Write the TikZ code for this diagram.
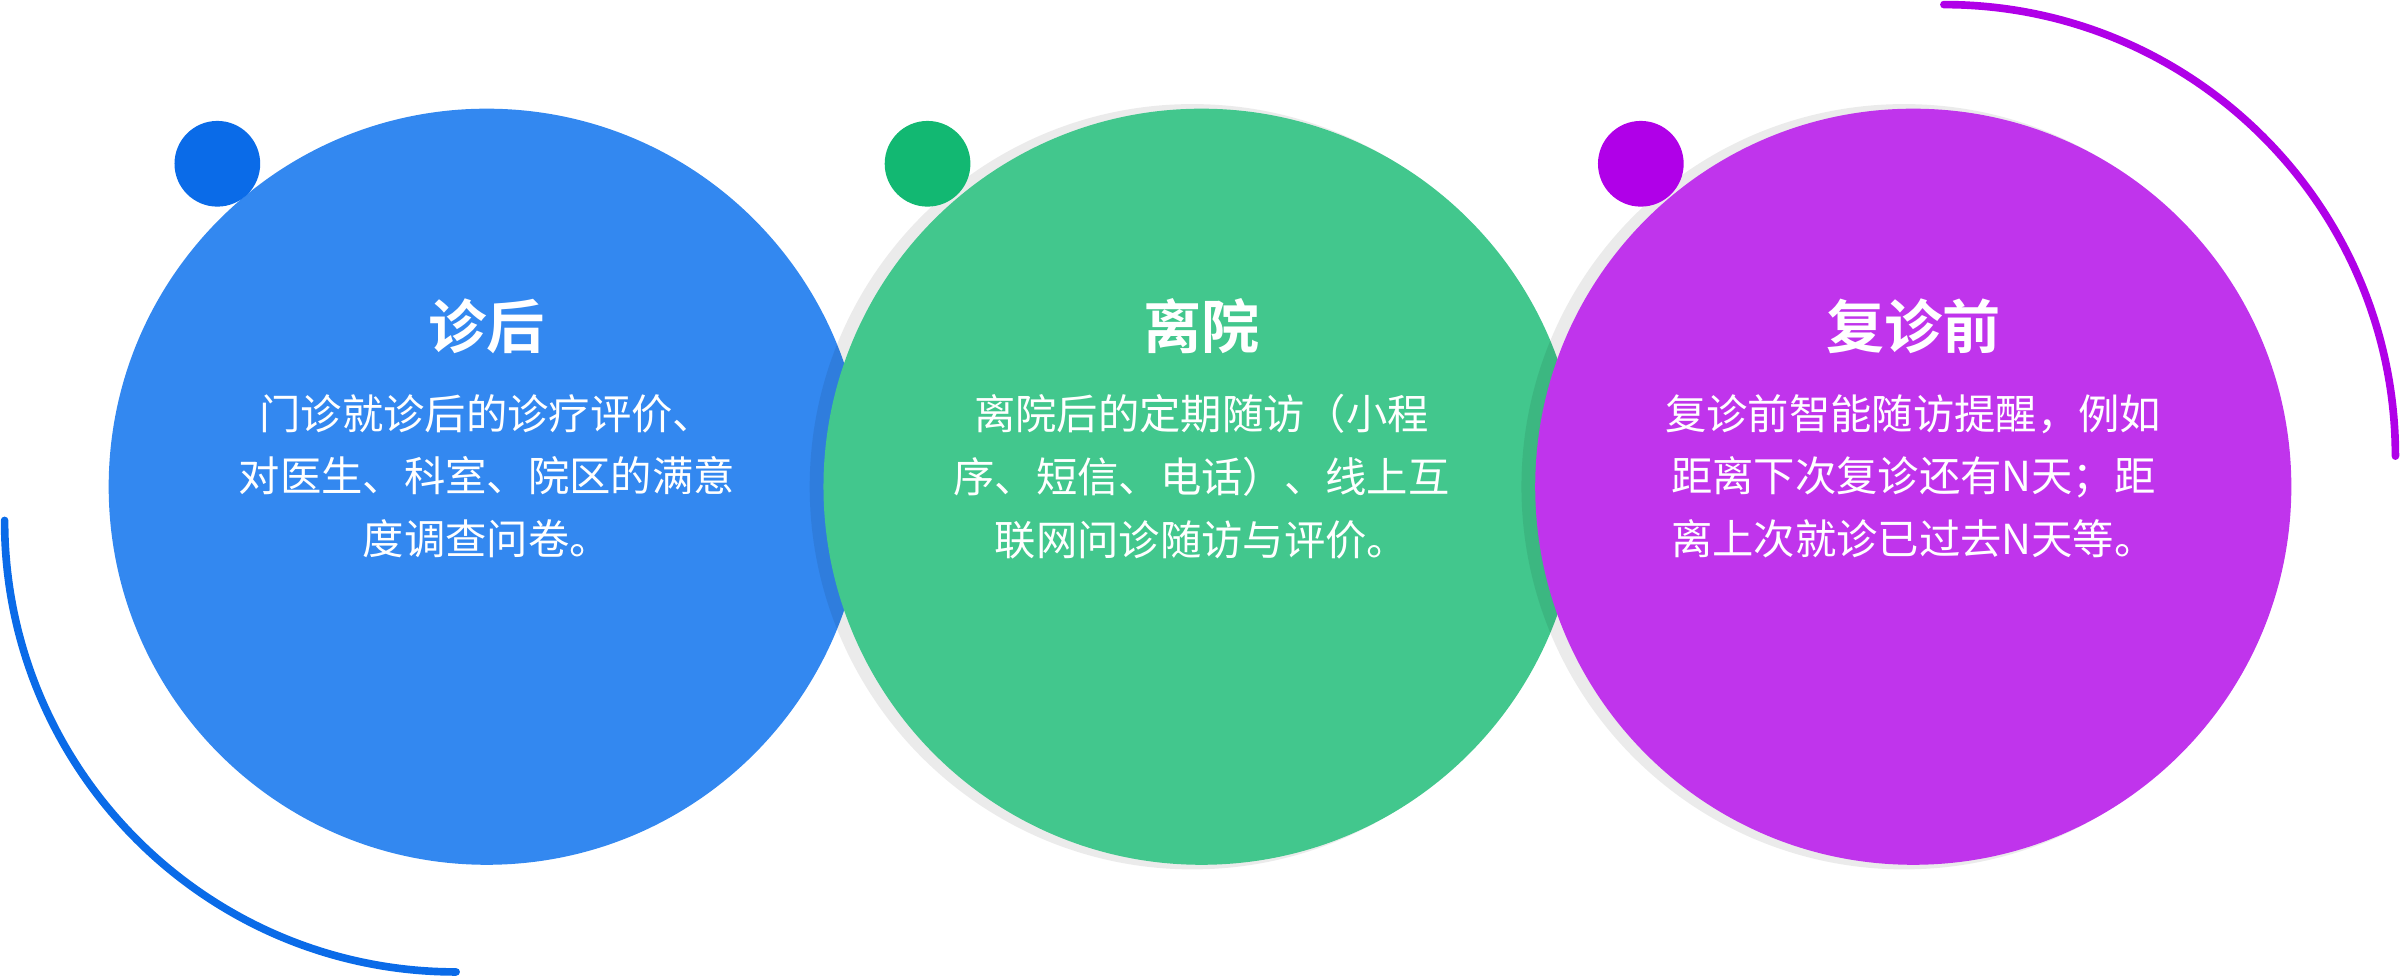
\documentclass[tikz,border=0pt]{standalone}
\usepackage{fontspec}
\setmainfont{Noto Sans CJK SC}
\newfontfamily\cjkb{Noto Sans CJK SC Bold}
\definecolor{cblue}{HTML}{3388F0}\definecolor{dblue}{HTML}{0A6BE8}
\definecolor{cgreen}{HTML}{42C78D}\definecolor{dgreen}{HTML}{12B872}
\definecolor{cpurple}{HTML}{C034EC}\definecolor{dpurple}{HTML}{B000E8}
\tikzset{
 bigc/.style={circle,minimum size=494pt,inner sep=0pt},
 dotc/.style={circle,minimum size=56pt,inner sep=0pt},
 ttl/.style={text=white,font=\cjkb\fontsize{38}{42}\selectfont},
 body/.style={text=white,align=center,font=\fontsize{27}{41}\selectfont},
}
\begin{document}
\begin{tikzpicture}[x=1pt,y=-1pt]
\useasboundingbox (0,0) rectangle (1568,639);
\draw[dblue,line width=5pt,line cap=round] (3,340) arc[start angle=180,end angle=90,radius=295];
\draw[dpurple,line width=5pt,line cap=round] (1270,3) arc[start angle=270,end angle=360,radius=295];
\node[bigc,fill=cblue] (c1) at (318,318) {};
\fill[black,opacity=0.08] (779,318) circle (250pt);
\node[bigc,fill=cgreen] (c2) at (785,318) {};
\fill[black,opacity=0.08] (1244,318) circle (250pt);
\node[bigc,fill=cpurple] (c3) at (1250,318) {};
\node[dotc,fill=dblue] (d1) at (142,107) {};
\node[dotc,fill=dgreen] (d2) at (606,107) {};
\node[dotc,fill=dpurple] (d3) at (1072,107) {};
\node[ttl] (t1) at (318,213) {诊后};
\node[ttl] (t2) at (785,213) {离院};
\node[ttl] (t3) at (1250,213) {复诊前};
\node[body,anchor=north] (b1) at (318,254) {门诊就诊后的诊疗评价、\\对医生、科室、院区的满意\\度调查问卷。};
\node[body,anchor=north] (b2) at (785,254) {离院后的定期随访（小程\\序、短信、电话）、线上互\\联网问诊随访与评价。};
\node[body,anchor=north] (b3) at (1250,254) {复诊前智能随访提醒，例如\\距离下次复诊还有N天；距\\离上次就诊已过去N天等。};
\end{tikzpicture}
\end{document}
